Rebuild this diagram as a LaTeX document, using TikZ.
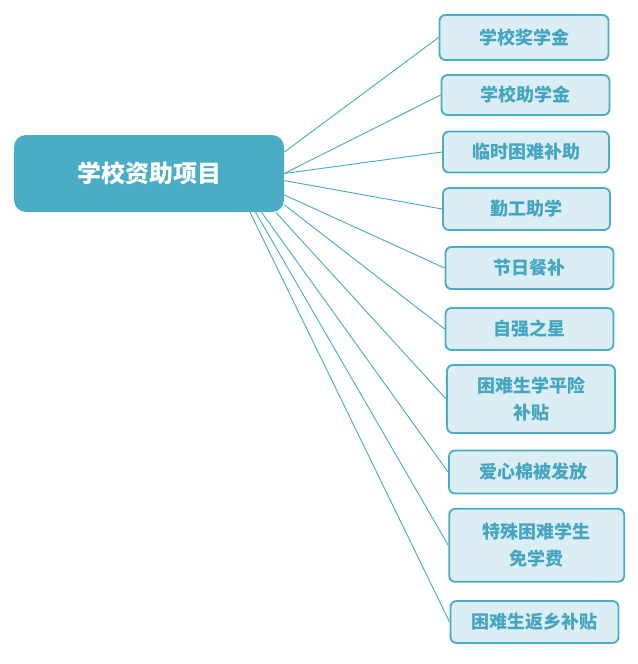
\documentclass[tikz,border=0pt]{standalone}
\usepackage{fontspec}
\newfontfamily\cjk{Noto Sans CJK SC}
\usetikzlibrary{positioning}
\definecolor{aidTeal}{HTML}{4BACC6}
\definecolor{aidTealSoft}{HTML}{DAEEF3}
\definecolor{aidText}{HTML}{46A5C0}

\begin{document}
\begin{tikzpicture}[x=0.75pt, y=-0.75pt,
    rootBox/.style={rectangle, rounded corners=9pt, fill=aidTeal, text=white, align=center, font=\cjk\fontsize{18}{22}\selectfont\bfseries, minimum width=202.5pt, minimum height=57.75pt},
    itemBox/.style={draw=aidTeal, line width=1.4pt, rectangle, rounded corners=4.5pt, fill=aidTealSoft, text=aidText, align=center, font=\cjk\fontsize{13.5}{20}\selectfont\bfseries, minimum width=126pt, minimum height=31.5pt, inner sep=2pt},
    branch/.style={draw=aidTeal, line width=0.7pt},
]
\useasboundingbox (0,0) rectangle (637,664);
\node[rootBox] (root) at (149, 173.5) {学校资助项目};
\node[itemBox, minimum width=126.75pt, minimum height=33.75pt] (scholar) at (524, 37.5) {学校奖学金};
\node[itemBox, minimum height=30pt] (grant) at (525.5, 95) {学校助学金};
\node[itemBox, minimum width=124.5pt, minimum height=30.75pt] (temp) at (526, 152) {临时困难补助};
\node[itemBox, minimum width=125.25pt] (work) at (526.5, 209) {勤工助学};
\node[itemBox] (meal) at (529.5, 268) {节日餐补};
\node[itemBox] (star) at (529.5, 329) {自强之星};
\node[itemBox, minimum height=51pt] (insure) at (531, 399) {困难生学平险\\补贴};
\node[itemBox, minimum height=32.25pt] (quilt) at (533, 472) {爱心棉被发放};
\node[itemBox, minimum width=131.25pt, minimum height=54.75pt] (tuition) at (536.7, 545.3) {特殊困难学生\\免学费};
\node[itemBox] (travel) at (534.5, 622) {困难生返乡补贴};
% connectors
\draw[branch] (root.9.2) -- (scholar.west);
\draw[branch] (root.0.2) -- (grant.west);
\draw[branch] (root.-0.5) -- (temp.west);
\draw[branch] (root.-3.5) -- (work.west);
\draw[branch] (root.-9.5) -- (meal.west);
\draw[branch] (root.-13) -- (star.west);
\draw[branch] (root.-17.4) -- (insure.west);
\draw[branch] (root.-19.1) -- (quilt.west);
\draw[branch] (root.-20) -- (tuition.west);
\draw[branch] (root.-21.4) -- (travel.west);
\end{tikzpicture}
\end{document}
